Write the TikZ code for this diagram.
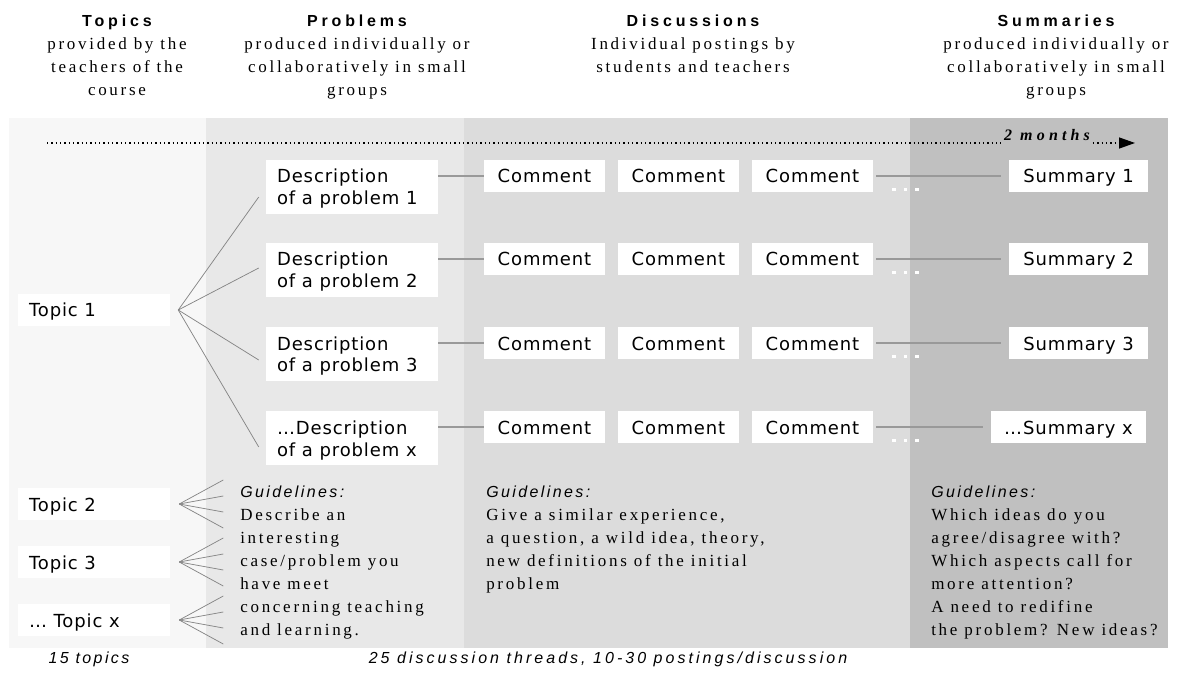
\documentclass[tikz,border=0pt]{standalone}
\usepackage{fontspec}
\setmainfont{Liberation Serif}
\newfontfamily\boxfont[LetterSpace=5]{DejaVu Sans}
\newfontfamily\headfont[LetterSpace=24]{Liberation Sans}
\newfontfamily\notefont[LetterSpace=15]{Liberation Sans}
\newfontfamily\widenotefont[LetterSpace=19]{Liberation Sans}
\newfontfamily\bodyfont[LetterSpace=16]{Liberation Serif}
\newfontfamily\monthsfont[LetterSpace=26]{Liberation Serif}
\usetikzlibrary{arrows.meta,calc}

\definecolor{bandtopic}{HTML}{F7F7F7}
\definecolor{bandprob}{HTML}{E8E8E8}
\definecolor{banddisc}{HTML}{DCDCDC}
\definecolor{bandsum}{HTML}{C0C0C0}
\definecolor{linkgray}{HTML}{999999}
\definecolor{fangray}{HTML}{858585}

% left-aligned text cell with a fixed left padding
\newcommand\leftcell[2]{\begin{tabular}[t]{@{\hspace{8.25pt}}p{#1}@{}}#2\end{tabular}}
% multi-line block whose baseline is its first line
\newcommand\lineblock[2]{\begin{tabular}[t]{@{}#1@{}}#2\end{tabular}}

\begin{document}
\begin{tikzpicture}[x=0.75pt,y=-0.75pt,
  box/.style={fill=white, inner sep=0pt,
    font=\boxfont\fontsize{13.5pt}{16.5pt}\selectfont,
    text height=17.25pt, text depth=6.75pt, minimum height=24pt},
  topicbox/.style={box, minimum width=114pt},
  descbox/.style={box, minimum width=129pt, minimum height=40.5pt, text depth=23.25pt},
  commentbox/.style={box, minimum width=90.75pt},
  summarybox/.style={box, minimum width=104.25pt},
  title/.style={anchor=base, inner sep=0pt, font=\headfont\bfseries\fontsize{12pt}{14pt}\selectfont},
  subtitle/.style={anchor=base, inner sep=0pt, font=\bodyfont\fontsize{12.75pt}{17pt}\selectfont},
  guide/.style={anchor=base west, inner sep=0pt, font=\bodyfont\fontsize{12.75pt}{17.25pt}\selectfont},
  note/.style={anchor=base, inner sep=0pt, font=\notefont\itshape\fontsize{12pt}{14pt}\selectfont},
  link/.style={draw=linkgray, line width=1pt},
  fan/.style={draw=fangray, line width=0.55pt},
  timeline/.style={line width=1pt, dash pattern=on 1pt off 2.25pt, black}
]
\useasboundingbox (0,0) rectangle (1177,673);

% column bands
\fill[bandtopic] (9,118) rectangle (206,648);
\fill[bandprob] (206,118) rectangle (464,648);
\fill[banddisc] (464,118) rectangle (910,648);
\fill[bandsum] (910,118) rectangle (1168,648);

% column headings
\node[title] (htopics) at (117,27) {Topics};
\node[subtitle] (stopics) at (117,50) {\lineblock{c}{provided by the\\teachers of the\\course}};
\node[title] (hprob) at (357,27) {Problems};
\node[subtitle] (sprob) at (357,50) {\lineblock{c}{produced individually or\\collaboratively in small\\groups}};
\node[title] (hdisc) at (693,27) {Discussions};
\node[subtitle] (sdisc) at (693,50) {\lineblock{c}{Individual postings by\\students and teachers}};
\node[title] (hsum) at (1056,27) {Summaries};
\node[subtitle] (ssum) at (1056,50) {\lineblock{c}{produced individually or\\collaboratively in small\\groups}};

% time line
\coordinate (tl0) at (47,143);
\coordinate (tl1) at (1135,143);
\node[anchor=base, inner xsep=2pt, inner ysep=0pt,
  font=\monthsfont\bfseries\itshape\fontsize{12pt}{14pt}\selectfont] (months) at (1047,141) {2 months};
\draw[timeline] (tl0) -- (tl0 -| months.west);
\draw[timeline, -{Triangle[length=12pt,width=8.25pt]}] (months.east |- tl1) -- (tl1);

% topics
\node[topicbox] (t1) at (94,310) {\leftcell{105.75pt}{Topic 1}};
\node[topicbox] (t2) at (94,504) {\leftcell{105.75pt}{Topic 2}};
\node[topicbox] (t3) at (94,562) {\leftcell{105.75pt}{Topic 3}};
\node[topicbox] (tx) at (94,620) {\leftcell{105.75pt}{… Topic x}};

% problem descriptions
\node[descbox] (d1) at (352,187) {\leftcell{120.75pt}{Description\\of a problem 1}};
\node[descbox] (d2) at (352,270) {\leftcell{120.75pt}{Description\\of a problem 2}};
\node[descbox] (d3) at (352,354) {\leftcell{120.75pt}{Description\\of a problem 3}};
\node[descbox] (d4) at (352,438) {\leftcell{120.75pt}{…Description\\of a problem x}};

% comments of each thread
\foreach \r/\y in {1/176,2/259,3/343,4/427} {
  \node[commentbox] (c\r a) at (544.5,\y) {Comment};
  \node[commentbox] (c\r b) at (678.5,\y) {Comment};
  \node[commentbox] (c\r c) at (812.5,\y) {Comment};
}

% summaries
\node[summarybox] (s1) at (1078.5,176) {Summary 1};
\node[summarybox] (s2) at (1078.5,259) {Summary 2};
\node[summarybox] (s3) at (1078.5,343) {Summary 3};
\node[summarybox, minimum width=116.25pt] (s4) at (1068.5,427) {…Summary x};

% thread connectors and continuation marks
\foreach \r in {1,2,3,4} {
  \draw[link] (d\r.east |- c\r a.west) -- (c\r a.west);
  \draw[link, shorten <=2.25pt, shorten >=6pt] (c\r c.east) -- (s\r.west);
  \foreach \dx in {20.5,32,43.5}
    \fill[white] ($(c\r c.east)+(\dx,13.5)$) +(-1.75,-1.75) rectangle +(1.75,1.75);
}

% topic 1 branching into its problems
\coordinate (f1) at ($(t1.east)+(8,0)$);
\draw[fan] (f1) -- ($(d1.west)+(-7,10)$);
\draw[fan] (f1) -- ($(d2.west)+(-7,-2)$);
\draw[fan] (f1) -- ($(d3.west)+(-7,6)$);
\draw[fan] (f1) -- ($(d4.west)+(-7,9)$);

% the other topics branch in the same way
\foreach \t in {t2,t3,tx} {
  \foreach \dy in {-24,-8,8,24}
    \draw[fan] ($(\t.east)+(9,0)$) -- ($(\t.east)+(53,\dy)$);
}

% guidelines
\node[guide] (gprob) at (240,497) {\lineblock{l}{{\notefont\itshape\fontsize{12pt}{17.25pt}\selectfont Guidelines:}\\Describe an\\interesting\\case/problem you\\have meet\\concerning teaching\\and learning.}};
\node[guide] (gdisc) at (486,497) {\lineblock{l}{{\notefont\itshape\fontsize{12pt}{17.25pt}\selectfont Guidelines:}\\Give a similar experience,\\a question, a wild idea, theory,\\new definitions of the initial\\problem}};
\node[guide] (gsum) at (931,497) {\lineblock{l}{{\notefont\itshape\fontsize{12pt}{17.25pt}\selectfont Guidelines:}\\Which ideas do you\\agree/disagree with?\\Which aspects call for\\more attention?\\A need to redifine\\the problem? New ideas?}};

% totals
\node[note] (ntopics) at (89,663) {15 topics};
\node[note, font=\widenotefont\itshape\fontsize{12pt}{14pt}\selectfont] (nthreads) at (608,663) {25 discussion threads, 10-30 postings/discussion};
\end{tikzpicture}
\end{document}
